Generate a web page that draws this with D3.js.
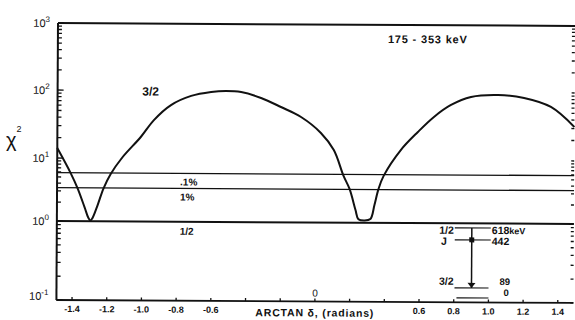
<!DOCTYPE html>
<html>
<head>
<meta charset="utf-8">
<script src="https://cdn.jsdelivr.net/npm/d3@7"></script>
<style>
  body { margin: 0; background: #fff; }
  svg { display: block; }
  text { font-family: "Liberation Sans", "DejaVu Sans", sans-serif; fill: #111; }
</style>
</head>
<body>
<script>
// 3/2 assignment chi^2 curve vs arctan(delta)
const curveX = [-1.49, -1.412, -1.372, -1.331, -1.308, -1.297, -1.285, -1.256, -1.222, -1.182,
  -1.115, -1.009, -0.934, -0.836, -0.720, -0.605, -0.519, -0.432, -0.317, -0.202,
  -0.086, 0.029, 0.104, 0.161, 0.196, 0.231, 0.248, 0.282, 0.317, 0.340,
  0.363, 0.392, 0.490, 0.588, 0.680, 0.778, 0.893, 1.049, 1.199, 1.354, 1.49];
const curveChi2 = [14.0, 5.78, 3.34, 1.67, 1.12, 1.03, 1.12, 1.79, 3.34, 5.6,
  10.3, 20.7, 36.8, 61.4, 84, 96.4, 100, 96.7, 79.4, 58.7,
  42, 24.6, 13.8, 5.51, 3.43, 1.59, 1.14, 1.09, 1.15, 1.92,
  3.46, 5.57, 14.0, 25.9, 43.2, 65, 85.5, 91.8, 83.6, 62, 31.6];

// confidence levels and the J=1/2 line
const refLabels = [".1%", "1%", "1/2"];
const refChi2 = [5.85, 3.38, 1.0];

const xTicks = [-1.4, -1.2, -1.0, -0.8, -0.6, -0.4, -0.2, 0, 0.2, 0.4, 0.6, 0.8, 1.0, 1.2, 1.4];
const xTickLabels = ["-1.4", "-1.2", "-1.0", "-0.8", "-0.6", "", "", "", "", "", "0.6", "0.8", "1.0", "1.2", "1.4"];
const yDecades = [0.1, 1, 10, 100, 1000];
const yDecadeExp = ["-1", "0", "1", "2", "3"];

// level scheme inset
const levelSpins = ["1/2", "J", "3/2", ""];
const levelEnergies = ["618", "442", "89", "0"];

const width = 575, height = 320;
const svg = d3.select("body").append("svg")
    .attr("width", width)
    .attr("height", height);

// scanned page is tilted a little
const g = svg.append("g").attr("transform", "rotate(0.33 58 23)");

const x = d3.scaleLinear().domain([-1.49, 1.49]).range([58, 575]);
// the printed decades are not evenly spaced, follow the page
const y = d3.scaleLog().domain(yDecades).range([300, 221, 158, 90, 23]);

// frame
g.append("line").attr("x1", 58).attr("x2", 575).attr("y1", y(1000)).attr("y2", y(1000))
    .attr("stroke", "#111").attr("stroke-width", 2);
g.append("line").attr("x1", 58).attr("x2", 575).attr("y1", y(0.1)).attr("y2", y(0.1))
    .attr("stroke", "#111").attr("stroke-width", 1.8);
g.append("line").attr("x1", 58).attr("x2", 58).attr("y1", y(1000)).attr("y2", y(0.1))
    .attr("stroke", "#111").attr("stroke-width", 2);

// y ticks, left and right
const yTicks = y.ticks();
g.append("g").selectAll("line")
    .data(yTicks)
    .join("line")
    .attr("x1", 58)
    .attr("x2", d => yDecades.includes(d) ? 64 : 62)
    .attr("y1", d => y(d)).attr("y2", d => y(d))
    .attr("stroke", "#111").attr("stroke-width", 1.3);
g.append("g").selectAll("line")
    .data(yTicks)
    .join("line")
    .attr("x1", 575)
    .attr("x2", 572)
    .attr("y1", d => y(d)).attr("y2", d => y(d))
    .attr("stroke", "#111").attr("stroke-width", 1.3);

const yLab = g.append("g").selectAll("text")
    .data(yDecades)
    .join("text")
    .attr("x", 50)
    .attr("y", (d, i) => i === 0 ? y(d) : y(d) + 4)
    .attr("text-anchor", "end")
    .attr("font-size", 11);
yLab.append("tspan").text("10");
yLab.append("tspan")
    .attr("dy", -5)
    .attr("font-size", 8)
    .text((d, i) => yDecadeExp[i]);

// x ticks
g.append("g").selectAll("line")
    .data(xTicks)
    .join("line")
    .attr("x1", d => x(d)).attr("x2", d => x(d))
    .attr("y1", y(0.1)).attr("y2", y(0.1) - 3)
    .attr("stroke", "#111").attr("stroke-width", 1.3);
g.append("g").selectAll("text")
    .data(xTicks)
    .join("text")
    .attr("x", d => x(d))
    .attr("y", 312)
    .attr("text-anchor", "middle")
    .attr("font-size", 9)
    .attr("font-weight", "bold")
    .text((d, i) => xTickLabels[i]);
g.append("text")
    .attr("x", x(0))
    .attr("y", 295)
    .attr("text-anchor", "middle")
    .attr("font-size", 10)
    .text("0");

g.append("text")
    .attr("x", 257)
    .attr("y", 315)
    .attr("font-size", 10.5)
    .attr("font-weight", "bold")
    .attr("textLength", 118)
    .text("ARCTAN δ, (radians)");

// y axis title
const yTitle = svg.append("text")
    .attr("x", 6)
    .attr("y", 147)
    .attr("font-size", 20)
    .attr("font-family", "DejaVu Serif");
yTitle.append("tspan").text("χ");
yTitle.append("tspan").attr("dy", -15).attr("font-size", 9).text("2");

// reference lines
g.append("g").selectAll("line")
    .data(refChi2)
    .join("line")
    .attr("x1", 58).attr("x2", 575)
    .attr("y1", d => y(d)).attr("y2", d => y(d))
    .attr("stroke", "#111")
    .attr("stroke-width", (d, i) => i === 2 ? 2 : 1.3);
g.append("g").selectAll("text")
    .data(refChi2)
    .join("text")
    .attr("x", 181)
    .attr("y", (d, i) => i === 2 ? y(d) + 13 : y(d) + 12)
    .attr("font-size", 10)
    .attr("font-weight", "bold")
    .text((d, i) => refLabels[i]);

// chi^2 curve
const line = d3.line()
    .x((d, i) => x(curveX[i]))
    .y(d => y(d))
    .curve(d3.curveCatmullRom.alpha(0.5));
g.append("path")
    .datum(curveChi2)
    .attr("d", line)
    .attr("fill", "none")
    .attr("stroke", "#111")
    .attr("stroke-width", 2);

g.append("text")
    .attr("x", 151)
    .attr("y", 95)
    .attr("text-anchor", "middle")
    .attr("font-size", 12)
    .attr("font-weight", "bold")
    .text("3/2");

g.append("text")
    .attr("x", 388)
    .attr("y", 41)
    .attr("font-size", 11)
    .attr("font-weight", "bold")
    .attr("textLength", 79)
    .text("175 - 353 keV");

// level scheme
const levelY = [225.5, 237.5, 285.5, 295.5];
const textDy = [6, 5, -3, -2];
const textSize = [10.5, 10.5, 9.5, 9.5];
const lv = g.append("g");
lv.selectAll("line")
    .data(levelEnergies)
    .join("line")
    .attr("x1", (d, i) => i === 3 ? 458 : 456)
    .attr("x2", (d, i) => i < 2 ? 492 : 490)
    .attr("y1", (d, i) => levelY[i]).attr("y2", (d, i) => levelY[i])
    .attr("stroke", "#111").attr("stroke-width", 1.2);
lv.selectAll("text.spin")
    .data(levelSpins)
    .join("text")
    .attr("class", "spin")
    .attr("x", (d, i) => i === 1 ? 448 : 455)
    .attr("y", (d, i) => levelY[i] + textDy[i])
    .attr("text-anchor", "end")
    .attr("font-size", (d, i) => i === 2 ? 10.5 : textSize[i])
    .attr("font-weight", "bold")
    .text(d => d);
const en = lv.selectAll("text.en")
    .data(levelEnergies)
    .join("text")
    .attr("class", "en")
    .attr("x", (d, i) => i < 2 ? 493 : (i === 2 ? 501 : 505))
    .attr("y", (d, i) => levelY[i] + textDy[i])
    .attr("font-size", (d, i) => textSize[i])
    .attr("font-weight", "bold");
en.append("tspan").text(d => d);
en.filter((d, i) => i === 0).append("tspan")
    .attr("font-size", 9)
    .text("keV");

lv.append("line")
    .attr("x1", 473).attr("x2", 473)
    .attr("y1", levelY[0]).attr("y2", levelY[2])
    .attr("stroke", "#111").attr("stroke-width", 1.5);
lv.append("rect")
    .attr("x", 470.5).attr("y", levelY[1] - 2.5)
    .attr("width", 5).attr("height", 5)
    .attr("fill", "#111");
lv.append("path")
    .attr("d", `M469,${levelY[2] - 5}L477,${levelY[2] - 5}L473,${levelY[2]}Z`)
    .attr("fill", "#111");
</script>
</body>
</html>
